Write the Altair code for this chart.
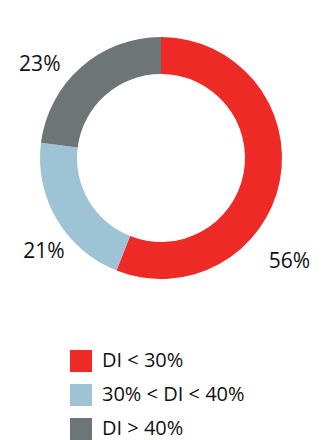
import altair as alt
import pandas as pd

categories = ["DI < 30%", "30% < DI < 40%", "DI > 40%"]
values = [56, 21, 23]
labels = ["56%", "21%", "23%"]
colors = ["#EE2A27", "#9DC3D5", "#6E7576"]

df = pd.DataFrame({
    "category": categories,
    "value": values,
    "label": labels,
    "order": list(range(len(categories))),
})

FONT = "Open Sans"

base = alt.Chart(df)

arc = base.mark_arc(innerRadius=84, outerRadius=121, stroke=None).encode(
    theta=alt.Theta("value:Q", stack=True),
    order=alt.Order("order:Q"),
    color=alt.Color(
        "category:N",
        sort=categories,
        scale=alt.Scale(domain=categories, range=colors),
        legend=alt.Legend(
            title=None,
            orient="none",
            legendX=70,
            legendY=350,
            direction="vertical",
            symbolType="square",
            symbolSize=484,
            symbolStrokeWidth=0,
            labelFont=FONT,
            labelFontSize=20,
            labelColor="#111111",
            labelOffset=10,
            rowPadding=12,
            padding=0,
        ),
    ),
)

# per-label nudges (pixels) to match the reference placement
nudges = {"DI < 30%": (-19, 76), "30% < DI < 40%": (12, 18), "DI > 40%": (-22, 20)}

label_base = base.transform_window(
    cum="sum(value)", sort=[alt.SortField("order")], frame=[None, 0]
).transform_calculate(mid="datum.cum - datum.value / 2")

text_layers = []
for cat in categories:
    dx, dy = nudges[cat]
    text_layers.append(
        label_base.transform_filter(alt.datum.category == cat)
        .mark_text(radius=150, dx=dx, dy=dy, font=FONT, fontSize=21,
                   color="#111111", align="center", baseline="middle")
        .encode(
            theta=alt.Theta("mid:Q", stack=None,
                            scale=alt.Scale(domain=[0, 100], range=[0, 6.283185307])),
            text="label:N",
        )
    )

chart = alt.layer(arc, *text_layers).properties(
    width=322, height=316, padding=0
).configure_view(stroke=None).resolve_scale(theta="independent")

chart.save("out.html", embed_options={"renderer": "svg", "actions": False})
